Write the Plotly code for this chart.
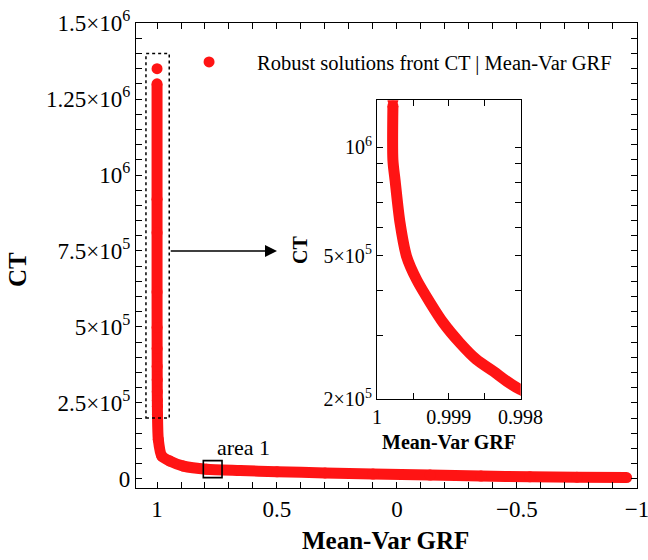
import plotly.graph_objects as go

# ---- data ----
front_x = [0.99978, 0.99978, 0.99975, 0.99968, 0.99959, 0.99945, 0.99926, 0.99908,
           0.99885, 0.99862, 0.99838, 0.99801, 0.9946, 0.980, 0.946, 0.890, 0.793,
           0.654, 0.50, 0.30, 0.10, -0.138, -0.35, -0.554, -0.75, -0.957]
front_y = [1.30e6, 9.2e5, 8.1e5, 6.15e5, 4.98e5, 4.29e5, 3.70e5, 3.26e5,
           2.87e5, 2.58e5, 2.39e5, 2.13e5, 1.30e5, 7.5e4, 5.85e4, 4.2e4, 3.15e4,
           2.75e4, 2.35e4, 1.95e4, 1.6e4, 1.25e4, 9.5e3, 6.8e3, 5.5e3, 4.5e3]
outlier_x = [0.99978]
outlier_y = [1.35e6]

main_x_ticks = [1, 0.5, 0, -0.5, -1]
main_x_text = ["1", "0.5", "0", "\u22120.5", "\u22121"]
main_y_ticks = [0, 2.5e5, 5e5, 7.5e5, 1e6, 1.25e6, 1.5e6]
main_y_text = ["0", "2.5\u00d710<sup>5</sup>", "5\u00d710<sup>5</sup>", "7.5\u00d710<sup>5</sup>",
               "10<sup>6</sup>", "1.25\u00d710<sup>6</sup>", "1.5\u00d710<sup>6</sup>"]
inset_x_ticks = [1, 0.999, 0.998]
inset_x_text = ["1", "0.999", "0.998"]
inset_y_ticks = [2e5, 5e5, 1e6]
inset_y_text = ["2\u00d710<sup>5</sup>", "5\u00d710<sup>5</sup>", "10<sup>6</sup>"]
inset_y_minor = [3e5, 4e5, 6e5, 7e5, 8e5, 9e5]

legend_name = "Robust solutions front CT | Mean-Var GRF"
RED = "#ff1414"
FONT = "Liberation Serif"
MS = 11

all_x = outlier_x + front_x
all_y = outlier_y + front_y

fig = go.Figure()
# main plot
fig.add_trace(go.Scatter(x=front_x, y=front_y, mode="lines",
                         line=dict(color=RED, width=MS, shape="spline", smoothing=0.6),
                         showlegend=False, hoverinfo="skip", xaxis="x", yaxis="y"))
fig.add_trace(go.Scatter(x=all_x, y=all_y, mode="markers", marker=dict(color=RED, size=MS),
                         name=legend_name, xaxis="x", yaxis="y"))
# inset
fig.add_trace(go.Scatter(x=front_x, y=front_y, mode="lines",
                         line=dict(color=RED, width=MS, shape="spline", smoothing=0.8),
                         showlegend=False, hoverinfo="skip", xaxis="x2", yaxis="y2"))
fig.add_trace(go.Scatter(x=outlier_x + front_x[:1], y=outlier_y + front_y[:1], mode="markers",
                         marker=dict(color=RED, size=MS),
                         showlegend=False, xaxis="x2", yaxis="y2"))

axis_common = dict(showgrid=False, zeroline=False, showline=True, linecolor="black",
                   linewidth=1.2, mirror="allticks", ticks="inside", tickcolor="black",
                   ticklen=6, tickwidth=1, automargin=False, ticklabeloverflow="allow")

fig.update_layout(
    width=648, height=560,
    margin=dict(l=136, r=11, t=23, b=72),
    paper_bgcolor="white", plot_bgcolor="white",
    font=dict(family=FONT, color="black"),
    xaxis=dict(**axis_common, range=[1.0875, -1.0002], tickvals=main_x_ticks, ticktext=main_x_text,
               tickfont=dict(size=23, family=FONT),
               minor=dict(dtick=0.1, ticks="inside", ticklen=6, tickcolor="black")),
    yaxis=dict(**axis_common, range=[-3e4, 1.5003e6], tickvals=main_y_ticks, ticktext=main_y_text,
               tickfont=dict(size=23, family=FONT),
               minor=dict(dtick=5e4, ticks="inside", ticklen=6, tickcolor="black")),
    xaxis2=dict(**axis_common, domain=[0.481, 0.768], anchor="y2", range=[1.000002, 0.997998],
                tickvals=inset_x_ticks, ticktext=inset_x_text, tickfont=dict(size=20, family=FONT),
                minor=dict(dtick=0.0005, ticks="inside", ticklen=6, tickcolor="black")),
    yaxis2=dict(**axis_common, domain=[0.191, 0.834], anchor="x2", type="log",
                range=[5.3009, 6.130], tickvals=inset_y_ticks, ticktext=inset_y_text,
                tickfont=dict(size=20, family=FONT),
                minor=dict(tickvals=inset_y_minor, ticks="inside", ticklen=6, tickcolor="black")),
    legend=dict(x=0.05, y=0.916, xanchor="left", yanchor="middle", bgcolor="rgba(0,0,0,0)",
                itemwidth=86, font=dict(size=20.5, family=FONT)),
    showlegend=True,
)

# dotted box around the vertical branch
fig.add_shape(type="rect", xref="x", yref="y", x0=1.046, x1=0.949, y0=2.0e5, y1=1.4e6,
              line=dict(color="black", width=1.5, dash="dot"))
# area 1 box
fig.add_shape(type="rect", xref="x", yref="y", x0=0.807, x1=0.729, y0=4e3, y1=6.0e4,
              line=dict(color="black", width=1.6))
# arrow
fig.add_annotation(x=0.50, y=7.5e5, ax=0.949, ay=7.5e5, xref="x", yref="y", axref="x", ayref="y",
                   text="", showarrow=True, arrowhead=2, arrowsize=1.6, arrowwidth=1.5,
                   arrowcolor="black")
fig.add_annotation(x=0.6375, y=1.04e5, xref="x", yref="y", text="area 1", showarrow=False,
                   xanchor="center", yanchor="middle", font=dict(size=22, family=FONT))
# axis titles
fig.add_annotation(x=0.499, y=-0.112, xref="paper", yref="paper", text="<b>Mean-Var GRF</b>",
                   xanchor="center", yanchor="middle",
                   showarrow=False, font=dict(size=25, family=FONT))
fig.add_annotation(x=-0.2355, y=0.469, xref="paper", yref="paper", text="<b>CT</b>",
                   xanchor="center", yanchor="middle",
                   textangle=-90, showarrow=False, font=dict(size=25, family=FONT))
fig.add_annotation(x=(449 - 136) / 501, y=(488 - 442) / 465, xref="paper", yref="paper",
                   xanchor="center", yanchor="middle",
                   text="<b>Mean-Var GRF</b>", showarrow=False, font=dict(size=20, family=FONT))
fig.add_annotation(x=(300 - 136) / 501, y=(488 - 250) / 465, xref="paper", yref="paper",
                   xanchor="center", yanchor="middle",
                   text="<b>CT</b>", textangle=-90, showarrow=False, font=dict(size=20, family=FONT))

fig.write_html("out.html")
